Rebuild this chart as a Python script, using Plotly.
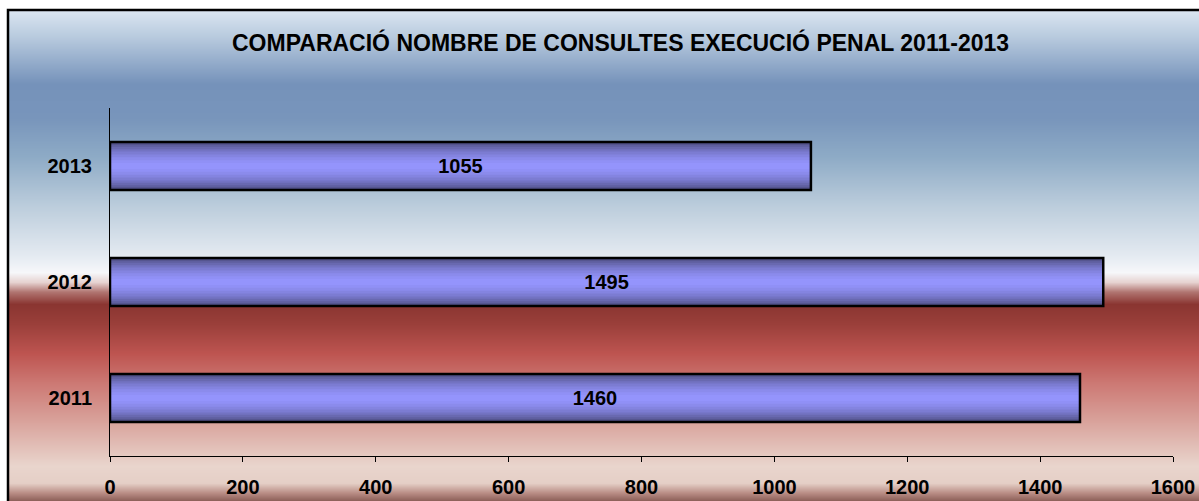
import numpy as np
import plotly.graph_objects as go

years = ["2011", "2012", "2013"]
consultes = [1460, 1495, 1055]
x_ticks = [0, 200, 400, 600, 800, 1000, 1200, 1400, 1600]

W, H = 1199, 501
title = "COMPARACIÓ NOMBRE DE CONSULTES EXECUCIÓ PENAL 2011-2013"
FONT = "Liberation Sans, Arial"

# background gradient (position from top of frame 0..1, colour)
bg_stops = [
    (0.00, "#dbe6f1"), (0.06, "#b4c7dc"), (0.15, "#7592ba"), (0.22, "#7895bb"),
    (0.30, "#8eabc6"), (0.40, "#bccddc"), (0.50, "#e4eaf1"), (0.535, "#f6f7fa"),
    (0.555, "#e6d2d0"), (0.575, "#b07470"), (0.60, "#8a3531"), (0.64, "#9a3f3a"),
    (0.70, "#bd5450"), (0.76, "#cc7873"), (0.84, "#d9a39c"), (0.93, "#e9d5cd"),
    (0.965, "#e5cfc6"), (0.985, "#b98d85"), (1.00, "#8f625b"),
]

fig = go.Figure()

# background as a heatmap covering the chart frame (row 0 = bottom)
n = 491
rows = np.linspace(0, 1, n)
fig.add_trace(go.Heatmap(
    z=[[v, v] for v in rows], x=[0, 1], y=list(range(n)),
    colorscale=[[1 - p, c] for p, c in reversed(bg_stops)],
    zmin=0, zmax=1, showscale=False, hoverinfo="skip",
    xaxis="x", yaxis="y",
))

# bars: stacked overlays to fake the cylindrical shading
shades = [
    (0.414, "#4c4c82"), (0.39, "#55558f"), (0.36, "#5f5f9f"), (0.33, "#6969b0"),
    (0.29, "#7373c2"), (0.25, "#7c7cd2"), (0.20, "#8484e0"), (0.15, "#8b8bec"),
    (0.10, "#9090f6"), (0.05, "#9494fc"),
]
for w, c in shades:
    fig.add_trace(go.Bar(
        x=consultes, y=years, orientation="h", width=w,
        marker=dict(color=c, line=dict(width=0)),
        hoverinfo="skip", showlegend=False,
        xaxis="x2", yaxis="y2",
    ))
fig.add_trace(go.Bar(
    x=consultes, y=years, orientation="h", width=0.414,
    marker=dict(color="rgba(0,0,0,0)", line=dict(color="#000000", width=2.5)),
    text=[str(v) for v in consultes], textposition="inside",
    insidetextanchor="middle",
    textfont=dict(family=FONT, size=20, color="#000000", weight="bold"),
    showlegend=False, xaxis="x2", yaxis="y2",
))

x0, x1 = 110 / W, 1173 / W
y0, y1 = (H - 456) / H, (H - 108) / H

fig.update_layout(
    width=W, height=H, autosize=False,
    margin=dict(l=0, r=0, t=0, b=0, autoexpand=False),
    paper_bgcolor="white", plot_bgcolor="rgba(0,0,0,0)",
    barmode="overlay", showlegend=False,
    font=dict(family=FONT, color="#000000"),
    xaxis=dict(domain=[8 / W, 1], range=[0, 1], visible=False, fixedrange=True),
    yaxis=dict(domain=[0, 1 - 10 / H], range=[-0.5, n - 0.5], visible=False,
               fixedrange=True),
    xaxis2=dict(domain=[x0, x1], anchor="y2", range=[0, 1600],
                tickvals=x_ticks, ticktext=[str(t) for t in x_ticks],
                showgrid=False, zeroline=False, showline=True,
                linecolor="#000000", linewidth=1,
                ticks="outside", ticklen=5, tickcolor="#000000",
                ticklabelstandoff=8, automargin=False,
                tickfont=dict(size=20, family=FONT, weight="bold")),
    yaxis2=dict(domain=[y0, y1], anchor="x2", range=[-0.5, 2.5],
                categoryorder="array", categoryarray=years, type="category",
                showgrid=False, zeroline=False, showline=True,
                linecolor="#000000", linewidth=1, automargin=False,
                ticks="outside", ticklen=13, tickcolor="rgba(0,0,0,0)",
                tickfont=dict(size=20, family=FONT, weight="bold")),
    shapes=[dict(type="rect", xref="paper", yref="paper",
                 x0=8 / W, x1=1.01, y0=-0.01, y1=1 - 10 / H,
                 line=dict(color="#000000", width=2.5), fillcolor="rgba(0,0,0,0)")],
    annotations=[dict(text="<b>" + title + "</b>", xref="paper", yref="paper",
                      x=620 / W, y=(H - 42) / H, showarrow=False,
                      xanchor="center", yanchor="middle",
                      font=dict(size=23, family=FONT, color="#000000"))],
)

fig.write_html(
    "out.html",
    config={"responsive": False, "displayModeBar": False},
    post_script="document.body.style.margin='0';document.body.style.overflow='hidden';",
)
